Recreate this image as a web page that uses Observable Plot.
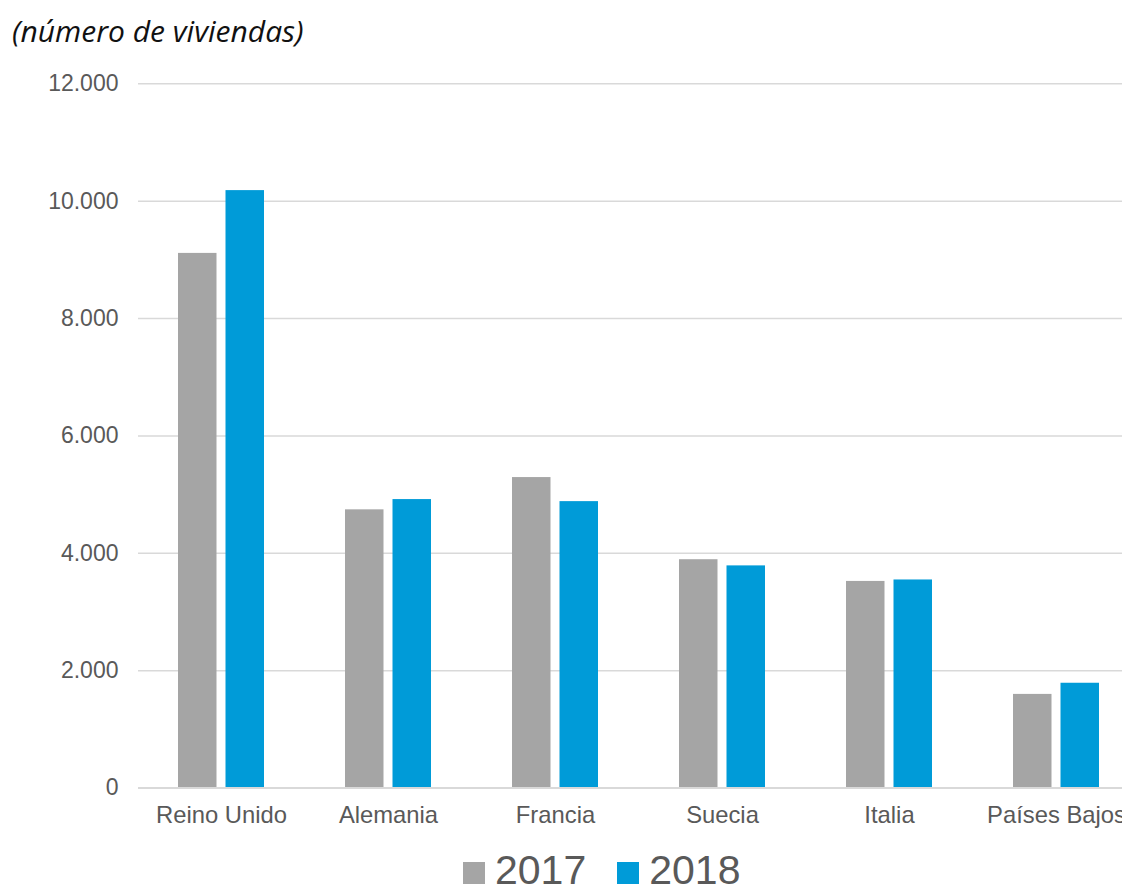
<!DOCTYPE html>
<html>
<head>
<meta charset="utf-8">
<script src="https://cdn.jsdelivr.net/npm/d3@7"></script>
<script src="https://cdn.jsdelivr.net/npm/@observablehq/plot@0.6"></script>
<style>
  html, body { margin: 0; padding: 0; background: #fff; overflow: hidden; }
  #wrap { position: relative; width: 1122px; height: 893px; overflow: hidden; }
  #title { position: absolute; left: 12px; top: 11px; font-family: "Open Sans", sans-serif; font-style: italic; font-size: 30px; line-height: 40px; color: #111; white-space: nowrap; }
  #chart { position: absolute; left: 0; top: 0; width: 1140px; }
  #chart svg { max-width: none !important; width: 1140px; height: 840px; }
  #legend { position: absolute; left: 463px; top: 850px; display: flex; align-items: baseline; font-family: "Liberation Sans", Arial, sans-serif; font-size: 41px; color: #595959; line-height: 1; white-space: nowrap; }
  .sw { display: inline-block; width: 22px; height: 22px; margin-right: 10px; }
  .item { display: flex; align-items: baseline; margin-right: 31px; }
</style>
</head>
<body>
<div id="wrap">
  <div id="chart"></div>
  <div id="title">(número de viviendas)</div>
  <div id="legend"></div>
</div>
<script>
const countries = ["Reino Unido", "Alemania", "Francia", "Suecia", "Italia", "Países Bajos"];
const values2017 = [9110, 4740, 5290, 3890, 3520, 1595];
const values2018 = [10180, 4915, 4880, 3785, 3545, 1785];
const seriesNames = ["2017", "2018"];
const seriesColors = ["#a5a5a5", "#009bd8"];
const yTicks = [0, 2000, 4000, 6000, 8000, 10000, 12000];

const rows = countries.map((c, i) => ({country: c, v2017: values2017[i], v2018: values2018[i]}));
const es = d3.formatLocale({decimal: ",", thousands: ".", grouping: [3], currency: ["", "€"]});
const fmt = es.format(",");

const chart = Plot.plot({
  width: 1140,
  height: 840,
  marginLeft: 138,
  marginRight: 0,
  marginTop: 83.3,
  marginBottom: 52.5,
  style: {fontFamily: "'Liberation Sans', Arial, sans-serif", fontSize: "23px", color: "#595959", background: "transparent", maxWidth: "none"},
  x: {domain: countries, paddingInner: 0.485, paddingOuter: 0.2425, label: null},
  y: {domain: [0, 12000], label: null},
  marks: [
    Plot.gridY(yTicks, {stroke: "#d9d9d9", strokeOpacity: 1, strokeWidth: 1.5}),
    Plot.barY(rows, {x: "country", y: "v2017", fill: seriesColors[0], insetRight: 47.5}),
    Plot.barY(rows, {x: "country", y: "v2018", fill: seriesColors[1], insetLeft: 47.5}),
    Plot.ruleY([0], {stroke: "#d9d9d9", strokeWidth: 2}),
    Plot.axisY(yTicks, {tickSize: 0, tickPadding: 20, tickFormat: fmt, fill: "#595959", fontSize: 23, label: null}),
    Plot.axisX({tickSize: 0, tickPadding: 18, fill: "#595959", fontSize: 23.8, label: null})
  ]
});
document.getElementById("chart").appendChild(chart);

const legend = document.getElementById("legend");
seriesNames.forEach((name, i) => {
  const item = document.createElement("span");
  item.className = "item";
  const sw = document.createElement("span");
  sw.className = "sw";
  sw.style.background = seriesColors[i];
  item.appendChild(sw);
  const t = document.createElement("span");
  t.textContent = name;
  item.appendChild(t);
  legend.appendChild(item);
});
</script>
</body>
</html>
